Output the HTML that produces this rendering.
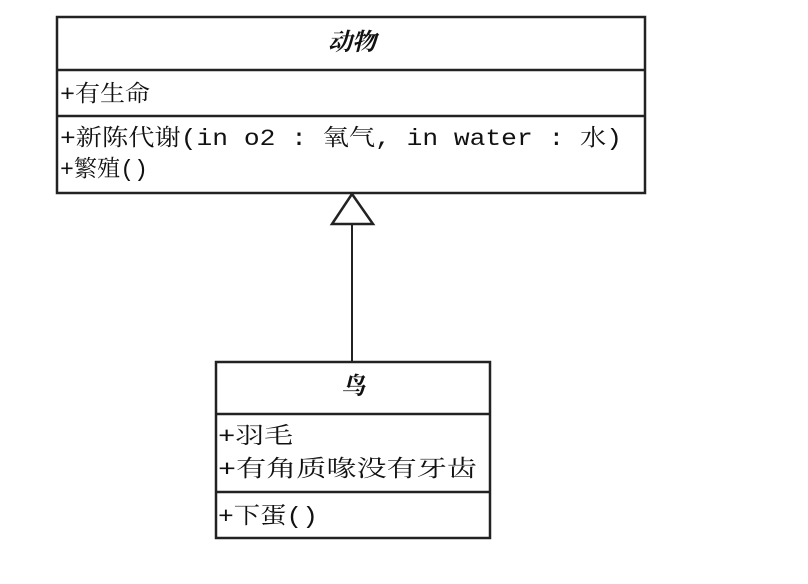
<!DOCTYPE html>
<html><head><meta charset="utf-8"><style>
body{margin:0;background:#fff;}
svg text{font-family:"Liberation Mono","Noto Serif CJK SC","Noto Sans CJK SC",monospace;fill:#111;}
</style></head><body>
<svg width="808" height="579" viewBox="0 0 808 579" xmlns="http://www.w3.org/2000/svg">
<rect width="808" height="579" fill="#fff"/>
<g stroke="#222" stroke-width="2.5" fill="none">
<rect x="57" y="17" width="588" height="176"/>
<line x1="57" y1="70" x2="645" y2="70"/>
<line x1="57" y1="116" x2="645" y2="116"/>
<rect x="216" y="362" width="274" height="176"/>
<line x1="216" y1="414" x2="490" y2="414"/>
<line x1="216" y1="492" x2="490" y2="492"/>
<line x1="352" y1="224" x2="352" y2="362" stroke-width="2"/>
<polygon points="352,194 332,224 373,224" fill="#fff"/>
</g>
<text x="352" y="50" font-size="24" font-weight="bold" font-style="italic" text-anchor="middle" font-family="'Noto Sans CJK SC',sans-serif">动物</text>
<text x="60" y="101" font-size="23" textLength="90" lengthAdjust="spacingAndGlyphs">+有生命</text>
<text x="60" y="145" font-size="23" textLength="562" lengthAdjust="spacingAndGlyphs">+新陈代谢(in o2 : 氧气, in water : 水)</text>
<text x="60" y="176" font-size="23" textLength="88" lengthAdjust="spacingAndGlyphs">+繁殖()</text>
<text x="353" y="394" font-size="24" font-weight="bold" font-style="italic" text-anchor="middle" font-family="'Noto Sans CJK SC',sans-serif">鸟</text>
<text x="218" y="443" font-size="23" textLength="75" lengthAdjust="spacingAndGlyphs">+羽毛</text>
<text x="218" y="476" font-size="23" textLength="259" lengthAdjust="spacingAndGlyphs">+有角质喙没有牙齿</text>
<text x="218" y="523" font-size="23" textLength="100" lengthAdjust="spacingAndGlyphs">+下蛋()</text>
</svg>
</body></html>
